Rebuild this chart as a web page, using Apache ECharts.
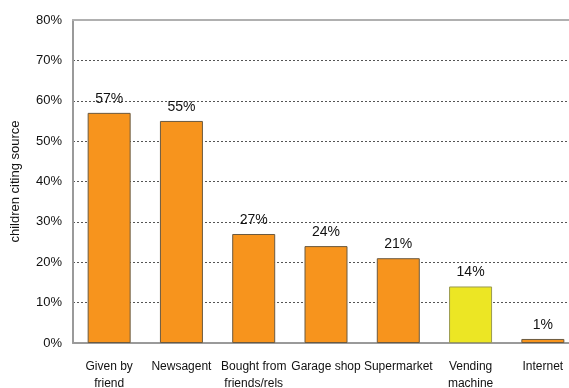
<!DOCTYPE html>
<html>
<head>
<meta charset="utf-8">
<script src="https://cdn.jsdelivr.net/npm/echarts@6/dist/echarts.min.js"></script>
<style>html,body{margin:0;padding:0;background:#fff;overflow:hidden;}#c{width:569px;height:388px;}</style>
</head>
<body>
<div id="c"></div>
<script>
const categories = ["Given by\nfriend", "Newsagent", "Bought from\nfriends/rels", "Garage shop", "Supermarket", "Vending\nmachine", "Internet"];
const values = [57, 55, 27, 24, 21, 14, 1];
const barColors = ["#F7941D", "#F7941D", "#F7941D", "#F7941D", "#F7941D", "#ECE624", "#F7941D"];
const yTicks = [0, 10, 20, 30, 40, 50, 60, 70, 80];

const chart = echarts.init(document.getElementById('c'), null, {renderer: 'canvas'});
const font = 'Liberation Sans, Arial, sans-serif';
chart.setOption({
  animation: false,
  grid: {left: 73, top: 20, width: 506, height: 323, containLabel: false, outerBoundsMode: 'none'},
  xAxis: [{
    type: 'category',
    data: categories,
    axisLine: {show: true, lineStyle: {color: '#9a9a9a', width: 2}},
    axisTick: {show: false},
    axisLabel: {color: '#111', fontFamily: font, fontSize: 12, margin: 15, lineHeight: 17, interval: 0}
  }, {
    type: 'category',
    data: categories,
    position: 'top',
    axisLine: {show: true, lineStyle: {color: '#b0b0b0', width: 2}},
    axisTick: {show: false},
    axisLabel: {show: false}
  }],
  yAxis: {
    type: 'value',
    min: yTicks[0], max: yTicks[yTicks.length - 1], interval: 10,
    name: 'children citing source',
    nameLocation: 'middle',
    nameGap: 51,
    nameTextStyle: {color: '#111', fontFamily: font, fontSize: 13},
    axisLine: {show: true, lineStyle: {color: '#9a9a9a', width: 2}},
    axisTick: {show: false},
    axisLabel: {color: '#111', fontFamily: font, fontSize: 13, margin: 11, formatter: v => v + '%'},
    splitLine: {show: true, lineStyle: {color: '#555', type: [2, 2], width: 1}}
  },
  series: [{
    type: 'bar',
    xAxisIndex: 0,
    barWidth: 43,
    data: values.map((v, i) => ({value: v, itemStyle: {color: barColors[i], borderColor: i === 5 ? '#9a9a50' : '#6b5a40', borderWidth: 1}})),
    label: {show: true, position: 'top', distance: 7, color: '#111', fontFamily: font, fontSize: 14, formatter: p => p.value + '%'}
  }]
});
</script>
</body>
</html>
